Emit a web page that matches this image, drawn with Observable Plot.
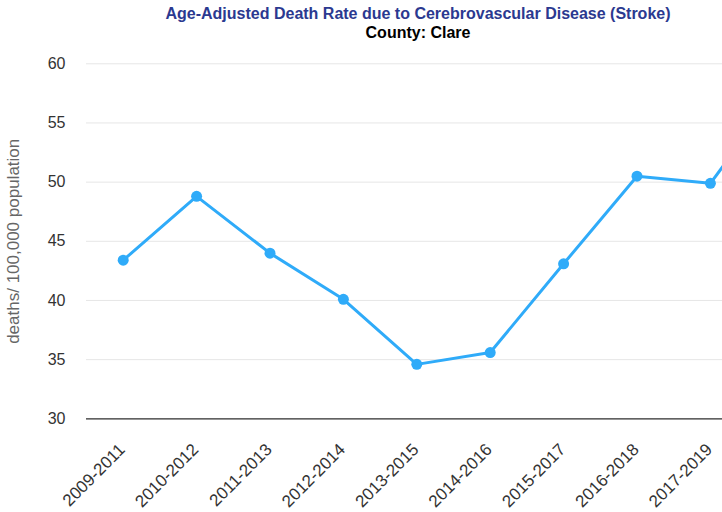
<!DOCTYPE html>
<html><head><meta charset="utf-8">
<script src="https://cdn.jsdelivr.net/npm/d3@7"></script>
<script src="https://cdn.jsdelivr.net/npm/@observablehq/plot@0.6"></script>
<style>
html,body{margin:0;padding:0;overflow:hidden;background:#fff;width:722px;height:512px}
#wrap{width:836px;font-family:"Liberation Sans",Arial,Helvetica,sans-serif}
#head{height:40px;padding-top:5px;box-sizing:border-box;text-align:center;overflow:visible}
#head .t{color:#2b3990;font-weight:bold;font-size:16px;line-height:17px}
#head .s{color:#000;font-weight:bold;font-size:16px;line-height:17px;margin-top:2px}
#chart svg{display:block}
</style></head><body>
<div id="wrap">
<div id="head">
<div class="t">Age-Adjusted Death Rate due to Cerebrovascular Disease (Stroke)</div>
<div class="s">County: Clare</div>
</div>
<div id="chart"></div>
</div>
<script>
const periods = ["2009-2011","2010-2012","2011-2013","2012-2014","2013-2015","2014-2016","2015-2017","2016-2018","2017-2019","2018-2020"];
const rates = [43.4, 48.8, 44.0, 40.1, 34.6, 35.6, 43.1, 50.5, 49.9, 58.3];
const yTicks = [30,35,40,45,50,55,60];
const yLabel = "deaths/ 100,000 population";

const data = periods.map((p,i)=>({period:p, rate:rates[i]}));
const font = '"Liberation Sans",Arial,Helvetica,sans-serif';
const chart = Plot.plot({
  width: 836, height: 472,
  marginLeft: 86, marginRight: 16, marginTop: 23.3, marginBottom: 93.7,
  style: {fontFamily: font, background: "white"},
  x: {type: "point", domain: periods, padding: 0.5, round: false},
  y: {domain: [30, 60]},
  marks: [
    Plot.gridY(yTicks, {stroke: "#e6e6e6", strokeOpacity: 1, strokeWidth: 1}),
    Plot.ruleY([30], {stroke: "#333", strokeWidth: 1.3}),
    Plot.axisY({ticks: yTicks, tickSize: 0, tickPadding: 21, fontSize: 16, fill: "#333", label: null}),
    Plot.axisX({tickRotate: -45, tickSize: 0, tickPadding: 28, fontSize: 17, fill: "#333", label: null, dx: -1}),
    Plot.text([yLabel], {frameAnchor: "left", dx: -73, rotate: -90, textAnchor: "middle", fontSize: 17, fill: "#666"}),
    Plot.line(data, {x: "period", y: "rate", stroke: "#2fabf9", strokeWidth: 3}),
    Plot.dot(data, {x: "period", y: "rate", r: 5.5, fill: "#2fabf9"})
  ]
});
document.getElementById("chart").appendChild(chart);
</script>
</body></html>
